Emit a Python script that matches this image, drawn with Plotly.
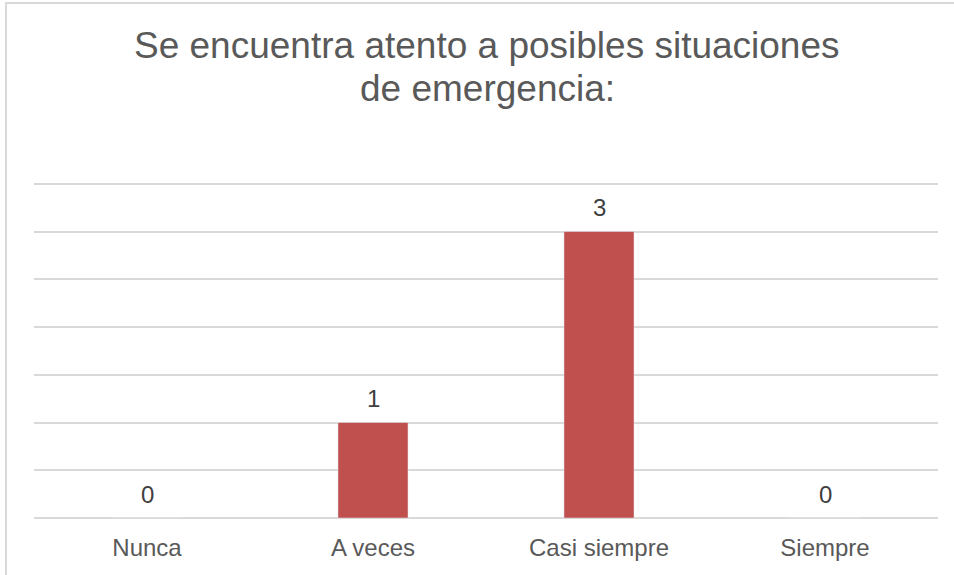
import plotly.graph_objects as go

categories = ["Nunca", "A veces", "Casi siempre", "Siempre"]
values = [0, 1, 3, 0]
title_lines = ["Se encuentra atento a posibles situaciones", "de emergencia:"]

W, H = 954, 575
ml, mr, mt, mb = 34, 16, 179, 57
pw, ph = W - ml - mr, H - mt - mb

fig = go.Figure(go.Bar(
    x=categories, y=values,
    marker_color="#C0504D",
    cliponaxis=False,
    hoverinfo="x+y",
))

for c, v in zip(categories, values):
    fig.add_annotation(x=c, y=v, text=str(v), showarrow=False,
                       yanchor="middle", yshift=24,
                       font=dict(size=24, color="#404040", family="Liberation Sans, Arial"))

# title as two centred lines
for line, ypix in zip(title_lines, [45, 88]):
    fig.add_annotation(text=line, xref="paper", yref="paper",
                       x=(487 - ml) / pw, y=1 + (mt - ypix) / ph,
                       xanchor="center", yanchor="middle", showarrow=False,
                       font=dict(size=37, color="#595959", family="Liberation Sans, Arial"))

# outer border (left/top visible)
x0 = (6 - ml) / pw
y1 = 1 + (mt - 3) / ph
fig.add_shape(type="rect", xref="paper", yref="paper",
              x0=x0, x1=1 + (mr + 10) / pw, y0=-(mb + 10) / ph, y1=y1,
              line=dict(color="#D9D9D9", width=2), fillcolor="rgba(0,0,0,0)", layer="below")

fig.update_layout(
    width=W, height=H,
    margin=dict(l=ml, r=mr, t=mt, b=mb),
    paper_bgcolor="white", plot_bgcolor="white",
    bargap=0.69,
    showlegend=False,
    font=dict(family="Liberation Sans, Arial", color="#595959"),
    xaxis=dict(showgrid=False, showline=False, ticks="",
               tickfont=dict(size=24, color="#595959"), ticklabelstandoff=13),
    yaxis=dict(range=[0, 3.55], tickvals=[0, 0.5, 1, 1.5, 2, 2.5, 3, 3.5], showticklabels=False,
               showgrid=True, gridcolor="#D9D9D9", gridwidth=1.5,
               zeroline=True, zerolinecolor="#D9D9D9", zerolinewidth=1.5,
               showline=False),
)

fig.write_html("out.html", config={"displayModeBar": False},
               post_script="document.body.style.margin='0';")
